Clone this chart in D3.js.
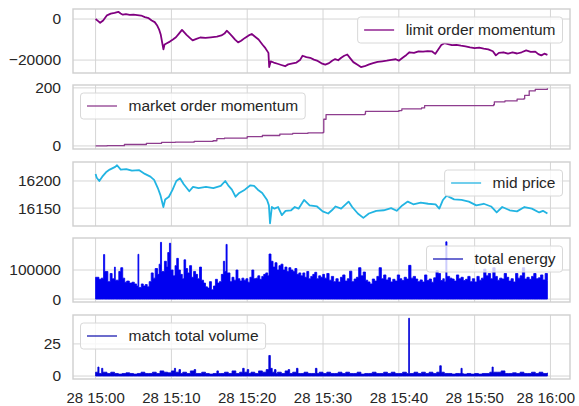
<!DOCTYPE html>
<html><head><meta charset="utf-8">
<script src="https://cdn.jsdelivr.net/npm/d3@7"></script>
<style>body{margin:0;background:#fff} svg{display:block} text{font-family:"Liberation Sans",Arial,sans-serif;fill:#262626}</style>
</head><body><svg id="c" width="579" height="406"></svg>
<script>
// ---- DATA (minutes after 28 15:00, value) ----
const baseDate = new Date(2020, 0, 28, 15, 0, 0);
const xTickMinutes = [0, 10, 20, 30, 40, 50, 60];
const seriesNames = ["limit order momentum", "market order momentum", "mid price", "total energy", "match total volume"];
const yTicks = [[-20000, 0], [0, 200], [16150, 16200], [0, 100000], [0, 25]];

const limitOrderMomentum = [[0,0],[0.3,-900],[0.6,-1800],[1.0,-700],[1.5,1800],[2.0,2600],[2.5,3000],[3.0,3500],[3.3,2700],[3.6,2100],[4.0,2400],[4.5,2000],[5.0,2100],[5.5,1900],[6.0,1700],[6.5,900],[7.0,400],[7.4,-700],[7.8,-1500],[8.1,-3000],[8.4,-5300],[8.6,-7700],[8.8,-11800],[8.95,-14800],[9.1,-12400],[9.4,-11800],[9.8,-11000],[10.2,-10000],[10.6,-8900],[11.0,-7100],[11.4,-5300],[11.7,-6500],[12.0,-7700],[12.5,-9400],[12.8,-10400],[13.3,-9700],[13.8,-9000],[14.5,-9200],[15.2,-8900],[16.0,-8600],[16.6,-8000],[17.0,-7100],[17.3,-5700],[17.6,-6800],[18.0,-8300],[18.4,-10000],[18.8,-11400],[19.2,-10600],[19.7,-9200],[20.2,-8000],[20.6,-7300],[21.0,-8500],[21.5,-10000],[22.0,-12400],[22.4,-14200],[22.8,-16500],[22.9,-23400],[23.1,-20600],[23.5,-21200],[24.0,-21800],[24.5,-22400],[25.0,-23000],[25.4,-22100],[26.0,-21600],[26.5,-21200],[27.0,-19800],[27.3,-17900],[27.8,-18600],[28.3,-18900],[28.8,-19800],[29.3,-20400],[29.8,-21600],[30.3,-22200],[30.8,-21500],[31.2,-20300],[31.6,-19500],[32.0,-20100],[32.4,-18900],[32.8,-17900],[33.2,-17300],[33.6,-19200],[34.0,-21000],[34.5,-22200],[35.0,-23400],[35.5,-23000],[36.0,-22200],[36.6,-21500],[37.2,-20900],[37.8,-20600],[38.4,-20300],[39.0,-19900],[39.6,-19600],[40.0,-20300],[40.5,-18900],[41.0,-17500],[41.4,-16200],[42.0,-16500],[42.6,-15800],[43.2,-15900],[43.8,-15600],[44.4,-15800],[44.8,-17000],[45.2,-14800],[45.6,-12700],[46.0,-11800],[46.5,-12200],[47.0,-12700],[47.6,-12600],[48.2,-13000],[48.8,-13300],[49.4,-13800],[50.0,-14200],[50.6,-13900],[51.2,-14400],[51.8,-14800],[52.4,-15700],[52.8,-17700],[53.2,-16500],[53.8,-16200],[54.4,-16900],[55.0,-16300],[55.6,-16800],[56.2,-16200],[56.8,-15300],[57.4,-16000],[58.0,-15900],[58.4,-17100],[58.8,-17700],[59.2,-16900],[59.6,-17500]];

const marketOrderMomentum = [[0,0],[1.5,1],[3.8,5],[6.7,9],[8.7,12],[10.5,13],[13,16],[15.5,18],[16,25],[17,27],[20,32],[22,36],[24.3,41],[26,43],[28,45],[30,47],[30.1,92],[30.4,108],[35.5,110],[35.6,119],[40,122],[40.4,128],[43,131],[43.4,139],[52.5,142],[52.6,152],[54,155],[55.6,161],[56.5,163],[56.6,174],[57.2,190],[58,195],[59.6,199]];

const midPrice = [[0,16213],[0.15,16206],[0.49,16200],[0.88,16208],[1.37,16216],[1.86,16221],[2.59,16226],[2.83,16229],[3.32,16221],[4.05,16222],[4.79,16219],[5.76,16220],[6.5,16213],[7.23,16208],[7.72,16202],[8.21,16187],[8.55,16174],[8.94,16152],[9.18,16166],[9.67,16171],[10.16,16184],[10.65,16200],[11.14,16205],[11.63,16194],[12.36,16181],[12.85,16189],[13.58,16187],[14.56,16189],[15.53,16187],[16.51,16191],[17.1,16200],[17.49,16192],[17.98,16184],[18.47,16171],[18.95,16178],[19.69,16184],[20.42,16192],[20.91,16191],[21.4,16184],[21.98,16178],[22.62,16165],[22.86,16155],[23.01,16122],[23.25,16152],[23.6,16149],[24.08,16152],[24.57,16137],[25.06,16145],[25.79,16146],[26.28,16152],[26.77,16149],[27.5,16165],[28.23,16155],[29.21,16153],[29.95,16144],[30.68,16140],[31.17,16146],[31.66,16153],[32.39,16149],[33.37,16162],[33.85,16152],[34.59,16140],[35.32,16132],[36.05,16140],[37.03,16145],[38.01,16146],[38.98,16150],[39.72,16145],[40.45,16155],[41.18,16162],[41.91,16157],[42.89,16160],[43.87,16158],[44.85,16157],[45.34,16149],[45.82,16165],[46.31,16173],[47.29,16166],[48.27,16165],[49.24,16162],[50.22,16155],[51.2,16158],[52.17,16153],[52.91,16142],[53.64,16152],[54.62,16146],[55.59,16144],[56.57,16152],[57.55,16149],[58.52,16142],[59.01,16145],[59.6,16140]];

const totalEnergy = [[0,75000],[0.44,68000],[0.74,72000],[1.05,153000],[1.2,95000],[1.62,60000],[1.92,88000],[2.18,70000],[2.49,110000],[2.6,65000],[3.06,95000],[3.32,108000],[3.58,72000],[3.84,58000],[4.1,62000],[4.45,55000],[4.8,58000],[5.11,52000],[5.41,45000],[5.59,154000],[5.7,40000],[6.03,52000],[6.29,45000],[6.55,50000],[6.81,42000],[7.07,60000],[7.34,90000],[7.6,72000],[7.86,105000],[8.17,85000],[8.38,120000],[8.56,195000],[8.7,95000],[9.08,130000],[9.34,110000],[9.52,160000],[9.74,192000],[9.9,100000],[10.22,80000],[10.48,115000],[10.7,140000],[10.92,100000],[11.18,85000],[11.44,70000],[11.66,135000],[11.88,105000],[12.14,90000],[12.4,115000],[12.66,75000],[12.93,95000],[13.19,85000],[13.45,70000],[13.71,110000],[13.97,65000],[14.24,55000],[14.5,42000],[14.76,38000],[15.02,60000],[15.28,32000],[15.55,45000],[15.81,68000],[16.07,55000],[16.33,60000],[16.59,85000],[16.86,130000],[17.03,95000],[17.21,188000],[17.35,90000],[17.73,60000],[17.99,75000],[18.25,65000],[18.52,100000],[18.78,70000],[19.04,62000],[19.3,72000],[19.56,65000],[19.83,70000],[20.09,58000],[20.35,75000],[20.61,100000],[20.87,70000],[21.14,72000],[21.4,80000],[21.66,68000],[21.92,78000],[22.18,85000],[22.45,90000],[22.71,80000],[22.88,155000],[23.14,130000],[23.41,110000],[23.67,125000],[23.93,100000],[24.19,115000],[24.45,120000],[24.72,100000],[24.98,110000],[25.24,95000],[25.5,108000],[25.76,100000],[26.03,95000],[26.29,105000],[26.55,85000],[26.81,90000],[27.07,80000],[27.34,90000],[27.6,75000],[27.86,95000],[28.12,70000],[28.38,78000],[28.65,85000],[28.91,92000],[29.17,70000],[29.43,80000],[29.69,75000],[29.96,85000],[30.2,72000],[30.5,88000],[30.8,65000],[31.1,78000],[31.4,60000],[31.7,70000],[32.0,59000],[32.3,75000],[32.6,83000],[32.9,62000],[33.2,70000],[33.5,96000],[33.8,60000],[34.1,69000],[34.4,75000],[34.7,108000],[35.0,80000],[35.3,93000],[35.6,65000],[35.9,59000],[36.2,52000],[36.5,69000],[36.8,62000],[37.1,78000],[37.4,108000],[37.7,70000],[38.0,83000],[38.3,66000],[38.6,73000],[38.9,59000],[39.2,68000],[39.5,62000],[39.8,83000],[40.1,70000],[40.4,64000],[40.7,75000],[41.0,69000],[41.3,116000],[41.6,72000],[41.9,78000],[42.2,69000],[42.5,60000],[42.8,66000],[43.1,59000],[43.4,83000],[43.7,64000],[44.0,69000],[44.3,58000],[44.6,73000],[44.9,98000],[45.2,88000],[45.5,64000],[45.8,70000],[46.0,60000],[46.2,197000],[46.35,78000],[46.7,72000],[47.0,69000],[47.3,62000],[47.6,83000],[47.9,70000],[48.2,75000],[48.5,64000],[48.8,68000],[49.1,78000],[49.4,60000],[49.7,70000],[50.0,59000],[50.3,78000],[50.6,65000],[50.9,72000],[51.2,103000],[51.5,80000],[51.8,88000],[52.1,70000],[52.4,108000],[52.7,78000],[53.0,65000],[53.3,72000],[53.6,69000],[53.9,88000],[54.2,75000],[54.5,62000],[54.8,70000],[55.1,59000],[55.4,88000],[55.7,72000],[56.0,80000],[56.3,108000],[56.6,69000],[56.9,75000],[57.2,68000],[57.5,78000],[57.8,88000],[58.1,70000],[58.4,73000],[58.7,83000],[59.0,66000],[59.3,88000],[59.6,64000]];

const matchTotalVolume = [[0,3],[0.3,7],[0.45,2],[0.8,6],[0.95,3],[1.5,2],[2,3],[2.5,2],[3,1.5],[3.5,2],[4,2.5],[4.5,2],[5,1.5],[5.5,2],[6,3],[6.5,2],[7,2],[7.5,3],[8,2],[8.5,4],[9,3],[9.5,2.5],[10,4],[10.4,6],[10.55,3],[11,5],[11.2,2],[11.5,3],[12,2],[12.5,4],[13,5],[13.2,2],[13.5,2],[14,3],[14.5,2],[15,1.5],[15.5,2],[16,4],[16.2,2],[16.5,2],[17,3],[17.5,2],[18,4],[18.5,2],[19,3],[19.4,6],[19.6,3],[20,5],[20.2,2],[20.5,3],[21,2],[21.5,4],[22,3],[22.5,5],[22.85,16],[23.05,6],[23.3,3],[23.6,5],[23.8,2],[24,3],[24.5,2],[25,4],[25.4,5],[25.6,2],[26,3],[26.5,6],[26.7,2],[27,2],[27.5,3],[28,2],[28.5,2],[29,6],[29.2,2],[29.5,3],[30,2],[30.5,3],[31,2],[31.5,2],[32,3],[32.5,2],[33,3],[33.5,2],[34,2],[34.5,3],[35,1.5],[35.5,2],[36,2],[36.5,3],[37,2],[37.5,2],[38,3],[38.5,2],[39,3],[39.5,2],[40,2],[40.5,3],[41,2],[41.3,45],[41.4,2],[41.6,2],[42,3],[42.5,2],[43,3],[43.5,2],[44,3],[44.5,2],[45,3],[45.4,8],[45.6,3],[46,2],[46.5,2],[47,1.5],[47.5,2],[48,2],[48.2,6],[48.35,2],[48.5,1.5],[49,2],[49.5,1.5],[50,2],[50.5,1.5],[51,2],[51.5,2],[52,3],[52.3,7],[52.45,3],[53,3],[53.5,4],[54,2],[54.5,2],[55,2.5],[55.5,2],[56,3],[56.5,2],[57,2],[57.5,3],[58,2],[58.5,3],[59,2],[59.6,2.5]];

// ---- LAYOUT ----
const W = 579;
const left = 73, right = 570, panelH = 64;
const panelTops = [9, 85, 162, 238, 315];
const FS = 15.5, XFS = 15;
const svg = d3.select("#c");
const toDate = m => new Date(baseDate.getTime() + m * 60000);

const allMin = d3.extent(limitOrderMomentum, d => d[0]);
const pad = (allMin[1] - allMin[0]) * 0.05;
const x = d3.scaleTime().domain([toDate(allMin[0] - pad), toDate(allMin[1] + pad)]).range([left, right]);
const xTicks = xTickMinutes.map(toDate);

const panels = [
  {data: limitOrderMomentum, color: "#800080", legendColor: "#800080", kind: "line", legend: "right", domain: [-26300, 4880], fmt: d => d < 0 ? "\u2212" + Math.abs(d) : d},
  {data: marketOrderMomentum, color: "#8e3d8e", legendColor: "#8e3d8e", kind: "step", legend: "left", domain: [-10.5, 210], fmt: d => d},
  {data: midPrice, color: "#22b4e2", legendColor: "#22b4e2", kind: "line", legend: "right", domain: [16117, 16235], fmt: d => d},
  {data: totalEnergy, color: "#0000f0", legendColor: "#1c1cb8", kind: "area", legend: "right", domain: [-10000, 210000], fmt: d => d},
  {data: matchTotalVolume, color: "#0000d8", legendColor: "#1c1cb0", kind: "area", legend: "left", domain: [-2.3, 47.5], fmt: d => d}
];

panels.forEach((p, i) => {
  const top = panelTops[i];
  const g = svg.append("g").attr("transform", `translate(0,${top})`);
  const y = d3.scaleLinear().domain(p.domain).range([panelH, 0]);
  // grid
  g.append("g").selectAll("line.h").data(yTicks[i]).join("line")
    .attr("x1", left).attr("x2", right).attr("y1", d => y(d)).attr("y2", d => y(d))
    .attr("stroke", "#d5d5d5").attr("stroke-width", 1);
  g.append("g").selectAll("line.v").data(xTicks).join("line")
    .attr("x1", d => x(d)).attr("x2", d => x(d)).attr("y1", 0).attr("y2", panelH)
    .attr("stroke", "#d5d5d5").attr("stroke-width", 1);
  // clip
  const cid = "clip" + i;
  g.append("clipPath").attr("id", cid).append("rect").attr("x", left).attr("y", 0).attr("width", right - left).attr("height", panelH);
  const dg = g.append("g").attr("clip-path", `url(#${cid})`);
  if (p.kind === "area") {
    const area = d3.area().curve(d3.curveStepAfter).x(d => x(toDate(d[0]))).y0(y(0)).y1(d => y(d[1]));
    dg.append("path").datum(p.data).attr("d", area).attr("fill", p.color).attr("stroke", p.color).attr("stroke-width", 0.8);
  } else {
    const line = d3.line().x(d => x(toDate(d[0]))).y(d => y(d[1]));
    if (p.kind === "step") line.curve(d3.curveStepAfter);
    dg.append("path").datum(p.data).attr("d", line).attr("fill", "none").attr("stroke", p.color)
      .attr("stroke-width", p.kind === "step" ? 1.3 : 1.8).attr("stroke-linejoin", "round");
  }
  // frame
  g.append("rect").attr("x", left).attr("y", 0).attr("width", right - left).attr("height", panelH)
    .attr("fill", "none").attr("stroke", "#cfcfcf").attr("stroke-width", 1.4);
  // y tick labels
  g.append("g").selectAll("text").data(yTicks[i]).join("text")
    .attr("x", 61).attr("y", d => y(d)).attr("dy", "0.35em").attr("text-anchor", "end")
    .attr("font-size", FS).text(p.fmt);
  // legend
  const lg = g.append("g");
  const box = lg.append("rect");
  const t = lg.append("text").attr("font-size", FS).text(seriesNames[i]);
  const tw = t.node().getComputedTextLength();
  const bw = 6.5 + 30 + 11.5 + tw + 7;
  const bh = 26;
  const bx = p.legend === "right" ? right - 7.5 - bw : left + 7.5;
  const by = 8;
  box.attr("x", bx).attr("y", by).attr("width", bw).attr("height", bh).attr("rx", 3)
    .attr("fill", "#fff").attr("fill-opacity", 0.8).attr("stroke", "#d8d8d8").attr("stroke-width", 1);
  lg.append("line").attr("x1", bx + 6.5).attr("x2", bx + 36.5).attr("y1", by + bh / 2).attr("y2", by + bh / 2)
    .attr("stroke", p.legendColor).attr("stroke-width", 1.3);
  t.attr("x", bx + 48).attr("y", by + bh / 2).attr("dy", "0.35em");
});

// x tick labels (bottom panel only); keep the last one inside the canvas
const fmt = d3.timeFormat("%d %H:%M");
svg.append("g").selectAll("text").data(xTicks).join("text")
  .attr("y", 403).attr("text-anchor", "middle").attr("font-size", XFS).text(fmt)
  .each(function(d) {
    const w = this.getComputedTextLength();
    const cx = Math.min(x(d), W - 4 - w / 2);
    d3.select(this).attr("x", cx);
  });
</script></body></html>
